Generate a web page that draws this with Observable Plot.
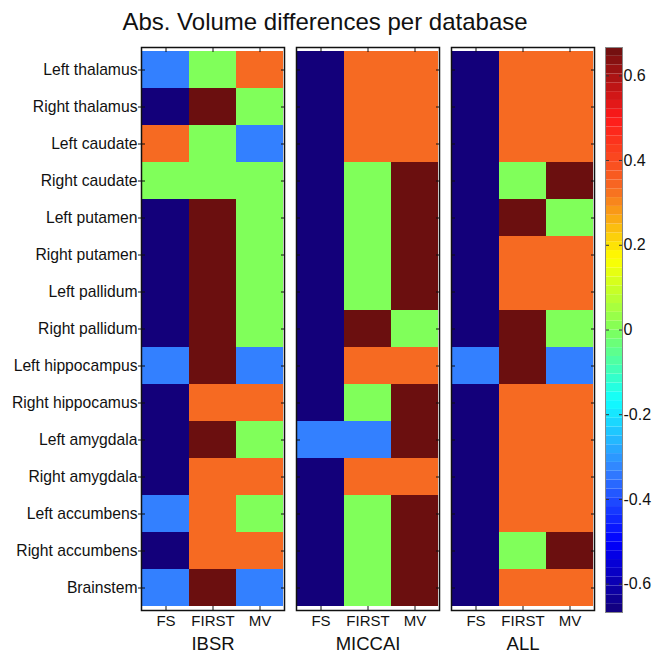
<!DOCTYPE html>
<html><head><meta charset="utf-8">
<script src="https://cdn.jsdelivr.net/npm/d3@7"></script>
<script src="https://cdn.jsdelivr.net/npm/@observablehq/plot@0.6"></script>
<style>
body{margin:0;background:#fff;font-family:"Liberation Sans",Arial,sans-serif;}
#wrap{position:relative;width:657px;height:653px;overflow:hidden;}
#title{position:absolute;left:0;top:9px;width:650px;text-align:center;font-size:24px;line-height:26px;color:#111;}
#main{position:absolute;left:0;top:40px;}
#cbar{position:absolute;left:600px;top:40px;}
</style></head><body>
<div id="wrap"><div id="title">Abs. Volume differences per database</div><div id="main"></div><div id="cbar"></div></div>
<script>
const regions = ["Left thalamus","Right thalamus","Left caudate","Right caudate","Left putamen","Right putamen","Left pallidum","Right pallidum","Left hippocampus","Right hippocamus","Left amygdala","Right amygdala","Left accumbens","Right accumbens","Brainstem"];
const methods = ["FS","FIRST","MV"];
const databases = ["IBSR","MICCAI","ALL"];

const ibsrFS    = [-0.333,-0.667, 0.333, 0,-0.667,-0.667,-0.667,-0.667,-0.333,-0.667,-0.667,-0.667,-0.333,-0.667,-0.333];
const ibsrFIRST = [ 0, 0.667, 0, 0, 0.667, 0.667, 0.667, 0.667, 0.667, 0.333, 0.667, 0.333, 0.333, 0.333, 0.667];
const ibsrMV    = [ 0.333, 0,-0.333, 0, 0, 0, 0, 0,-0.333, 0.333, 0, 0.333, 0, 0.333,-0.333];

const miccaiFS    = [-0.667,-0.667,-0.667,-0.667,-0.667,-0.667,-0.667,-0.667,-0.667,-0.667,-0.333,-0.667,-0.667,-0.667,-0.667];
const miccaiFIRST = [ 0.333, 0.333, 0.333, 0, 0, 0, 0, 0.667, 0.333, 0,-0.333, 0.333, 0, 0, 0];
const miccaiMV    = [ 0.333, 0.333, 0.333, 0.667, 0.667, 0.667, 0.667, 0, 0.333, 0.667, 0.667, 0.333, 0.667, 0.667, 0.667];

const allFS    = [-0.667,-0.667,-0.667,-0.667,-0.667,-0.667,-0.667,-0.667,-0.333,-0.667,-0.667,-0.667,-0.667,-0.667,-0.667];
const allFIRST = [ 0.333, 0.333, 0.333, 0, 0.667, 0.333, 0.333, 0.667, 0.667, 0.333, 0.333, 0.333, 0.333, 0, 0.333];
const allMV    = [ 0.333, 0.333, 0.333, 0.667, 0, 0.333, 0.333, 0,-0.333, 0.333, 0.333, 0.333, 0.333, 0.667, 0.333];

const colorDomain = [-0.667, 0.667];
const colorbarTicks = [-0.6,-0.4,-0.2,0,0.2,0.4,0.6];

const table = {
  IBSR:   {FS: ibsrFS,   FIRST: ibsrFIRST,   MV: ibsrMV},
  MICCAI: {FS: miccaiFS, FIRST: miccaiFIRST, MV: miccaiMV},
  ALL:    {FS: allFS,    FIRST: allFIRST,    MV: allMV}
};
const rows = [];
for (const db of databases) for (const m of methods)
  table[db][m].forEach((v, k) => rows.push({db, method: m, region: regions[k], value: v}));

const jet = d3.piecewise(d3.interpolateRgb, ["#13007a","#0000ff","#3380ff","#10ffff","#80ff5a","#ffff00","#f66a22","#ff1a1a","#6b0f0f"]);
const colorScale = {type: "linear", domain: colorDomain, interpolate: jet};
const font = "'Liberation Sans', Arial, sans-serif";

const main = Plot.plot({
  width: 600, height: 613, marginTop: 7, marginBottom: 43, marginLeft: 140, marginRight: 5,
  style: {fontFamily: font, fontSize: "15px", color: "#111", background: "#fff", overflow: "visible"},
  fx: {domain: databases, paddingInner: 0.08, paddingOuter: 0, axis: null, label: null},
  x: {domain: methods, padding: 0, axis: null, label: null},
  y: {domain: regions, padding: 0, axis: null, label: null},
  color: colorScale,
  marks: [
    Plot.cell(rows, {fx: "db", x: "method", y: "region", fill: "value"}),
    Plot.axisY({anchor: "left", tickSize: 3, tickPadding: 1, fontSize: 15.7, label: null}),
    Plot.axisY({anchor: "left", tickSize: -4, text: null, label: null, facetAnchor: null}),
    Plot.axisY({anchor: "right", tickSize: -4, text: null, label: null, facetAnchor: null}),
    Plot.axisX({anchor: "bottom", tickSize: 0, tickPadding: 5, fontSize: 15, label: null, facetAnchor: null}),
    Plot.axisX({anchor: "bottom", tickSize: -4, text: null, label: null, facetAnchor: null}),
    Plot.axisX({anchor: "top", tickSize: -4, text: null, label: null, facetAnchor: null}),
    Plot.text(databases, {fx: d => d, text: d => d, frameAnchor: "bottom", dy: 39, fontSize: 18.5, fill: "#111"}),
    Plot.frame({stroke: "#111", strokeWidth: 1.5})
  ]
});
document.getElementById("main").appendChild(main);

const nLevels = 64;
const step = (colorDomain[1] - colorDomain[0]) / nLevels;
const levels = d3.range(nLevels).map(i => ({y1: colorDomain[0] + i * step, y2: colorDomain[0] + (i + 1) * step, v: colorDomain[0] + (i + 0.5) * step}));

const cbar = Plot.plot({
  width: 57, height: 613, marginTop: 7, marginBottom: 41, marginLeft: 5, marginRight: 35,
  style: {fontFamily: font, fontSize: "16px", color: "#111", background: "transparent", overflow: "visible"},
  y: {domain: colorDomain, axis: null, label: null},
  color: colorScale,
  marks: [
    Plot.rect(levels, {y1: "y1", y2: "y2", fill: "v"}),
    Plot.axisY(colorbarTicks, {anchor: "right", tickSize: 0, tickPadding: 1, fontSize: 16, label: null, tickFormat: d => d === 0 ? "0" : d.toFixed(1)}),
    Plot.axisY(colorbarTicks, {anchor: "right", tickSize: -4, text: null, label: null, stroke: "#333"}),
    Plot.axisY(colorbarTicks, {anchor: "left", tickSize: -4, text: null, label: null, stroke: "#333"}),
    Plot.frame({stroke: "#888"})
  ]
});
document.getElementById("cbar").appendChild(cbar);
</script>
</body></html>
